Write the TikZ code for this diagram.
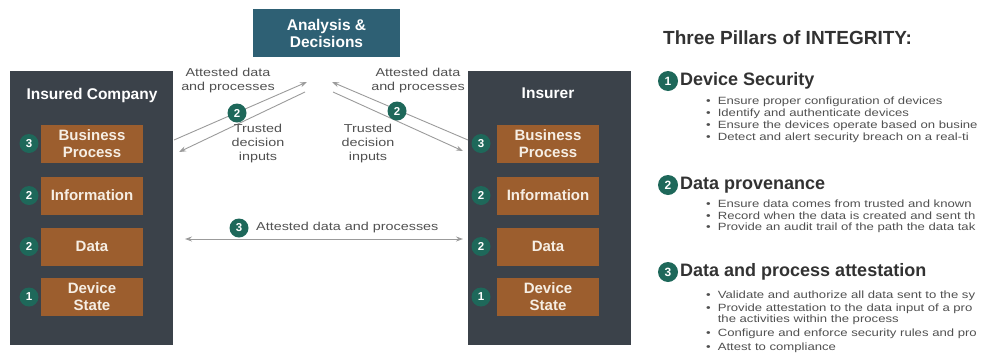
\documentclass[tikz,border=0pt]{standalone}
\usepackage{fontspec}
\setmainfont{Liberation Sans}
\newfontfamily\widefont{Liberation Sans}[FakeStretch=1.25]
\usetikzlibrary{positioning, arrows.meta}
\definecolor{PanelGray}{RGB}{59, 66, 74}
\definecolor{LayerOrange}{RGB}{156, 94, 46}
\definecolor{LayerText}{RGB}{246, 238, 228}
\definecolor{BadgeGreen}{RGB}{30, 104, 90}
\definecolor{HubBlue}{RGB}{46, 96, 116}
\definecolor{FlowGray}{RGB}{155, 155, 155}
\definecolor{NoteGray}{RGB}{80, 80, 80}
\definecolor{HeadGray}{RGB}{50, 50, 50}

\begin{document}
\begin{tikzpicture}[x=1pt, y=-1pt,
    panel/.style={fill=PanelGray, minimum width=163, minimum height=274, inner sep=0},
    paneltitle/.style={text=white, font=\bfseries\fontsize{15.5}{18}\selectfont},
    layer/.style={fill=LayerOrange, text=LayerText, font=\bfseries\fontsize{15}{17}\selectfont,
        minimum width=102, minimum height=38, align=center, inner sep=0},
    badge/.style={circle, fill=BadgeGreen, text=white, font=\bfseries\fontsize{11.5}{11.5}\selectfont,
        minimum size=19, inner sep=0},
    flow/.style={FlowGray, line width=0.9pt, -{Stealth[length=7pt, width=5pt]}},
    note/.style={text=NoteGray, font=\widefont\fontsize{11.5}{14}\selectfont, align=center},
    head/.style={anchor=west, inner sep=0, text=HeadGray, font=\bfseries\fontsize{18}{20}\selectfont},
    item/.style={anchor=west, inner sep=0, text=NoteGray, font=\widefont\fontsize{10.5}{12}\selectfont}]

    \useasboundingbox (0,0) rectangle (984,362);
    \clip (0,0) rectangle (984,362);

    % Analysis box
    \node[fill=HubBlue, text=white, font=\bfseries\fontsize{15.5}{17}\selectfont, align=center,
        minimum width=147, minimum height=48, inner sep=0] (hub) at (326.5,33) {Analysis \&\\Decisions};

    % Insured company
    \node[panel] (insured) at (91.5,208) {};
    \node[paneltitle] (insuredT) at (92,95) {Insured Company};
    \node[layer] (bpL) at (92,143.5) {Business\\Process};
    \node[layer] (infoL) at (92,195.5) {Information};
    \node[layer] (dataL) at (92,246.5) {Data};
    \node[layer] (devL) at (92,297) {Device\\State};
    \node[badge] (bpLn) at (29,143.5) {3};
    \node[badge] (infoLn) at (29,195.5) {2};
    \node[badge] (dataLn) at (29,246.5) {2};
    \node[badge] (devLn) at (29,297) {1};

    % Insurer
    \node[panel] (insurer) at (549,208) {};
    \node[paneltitle] (insurerT) at (548,93) {Insurer};
    \node[layer] (bpR) at (548,143.5) {Business\\Process};
    \node[layer] (infoR) at (548,195.5) {Information};
    \node[layer] (dataR) at (548,246.5) {Data};
    \node[layer] (devR) at (548,297) {Device\\State};
    \node[badge] (bpRn) at (481,143.5) {3};
    \node[badge] (infoRn) at (481,195.5) {2};
    \node[badge] (dataRn) at (481,246.5) {2};
    \node[badge] (devRn) at (481,297) {1};

    % Flows to and from the analysis box
    \coordinate (upL) at (174,140);
    \coordinate (upLtip) at (307,82);
    \coordinate (dnL) at (305,92);
    \coordinate (dnLtip) at (179,152);
    \coordinate (upR) at (468,140);
    \coordinate (upRtip) at (332,82);
    \coordinate (dnR) at (333,92);
    \coordinate (dnRtip) at (463,151);
    \draw[flow] (upL) -- (upLtip);
    \draw[flow] (dnL) -- (dnLtip);
    \draw[flow] (upR) -- (upRtip);
    \draw[flow] (dnR) -- (dnRtip);
    \node[badge] (flowLn) at (237,113) {2};
    \node[badge] (flowRn) at (397,111) {2};
    \node[note] (attL) at (228,81) {Attested data\\and processes};
    \node[note] (attR) at (418,81) {Attested data\\and processes};
    \node[note] (trustL) at (258,144) {Trusted\\decision\\inputs};
    \node[note] (trustR) at (368,144) {Trusted\\decision\\inputs};

    % Direct exchange
    \coordinate (xL) at (185,239);
    \coordinate (xR) at (463,239);
    \draw[flow, {Stealth[length=7pt, width=5pt]}-{Stealth[length=7pt, width=5pt]}] (xL) -- (xR);
    \node[badge] (xn) at (239,228) {3};
    \node[note, anchor=west, inner sep=0] (xT) at (256,228) {Attested data and processes};

    % Pillars
    \node[anchor=west, inner sep=0, text=HeadGray, font=\bfseries\fontsize{19}{22}\selectfont]
        (pillars) at (663,38) {Three Pillars of INTEGRITY:};

    \node[badge, minimum size=20, font=\bfseries\fontsize{12}{12}\selectfont] (p1) at (668,81) {1};
    \node[head] (p1T) at (680,81) {Device Security};
    \node[item] (p1a) at (706,102) {\textbullet\hspace{7pt}Ensure proper configuration of devices};
    \node[item] (p1b) at (706,114) {\textbullet\hspace{7pt}Identify and authenticate devices};
    \node[item] (p1c) at (706,126) {\textbullet\hspace{7pt}Ensure the devices operate based on busine};
    \node[item] (p1d) at (706,138) {\textbullet\hspace{7pt}Detect and alert security breach on a real-ti};

    \node[badge, minimum size=20, font=\bfseries\fontsize{12}{12}\selectfont] (p2) at (668,185) {2};
    \node[head] (p2T) at (680,185) {Data provenance};
    \node[item] (p2a) at (706,204) {\textbullet\hspace{7pt}Ensure data comes from trusted and known};
    \node[item] (p2b) at (706,216) {\textbullet\hspace{7pt}Record when the data is created and sent th};
    \node[item] (p2c) at (706,228) {\textbullet\hspace{7pt}Provide an audit trail of the path the data tak};

    \node[badge, minimum size=20, font=\bfseries\fontsize{12}{12}\selectfont] (p3) at (668,272) {3};
    \node[head] (p3T) at (680,272) {Data and process attestation};
    \node[item] (p3a) at (706,296) {\textbullet\hspace{7pt}Validate and authorize all data sent to the sy};
    \node[item] (p3b) at (706,309) {\textbullet\hspace{7pt}Provide attestation to the data input of a pro};
    \node[item] (p3c) at (706,320) {\phantom{\textbullet}\hspace{7pt}the activities within the process};
    \node[item] (p3d) at (706,334) {\textbullet\hspace{7pt}Configure and enforce security rules and pro};
    \node[item] (p3e) at (706,348) {\textbullet\hspace{7pt}Attest to compliance};
\end{tikzpicture}
\end{document}
